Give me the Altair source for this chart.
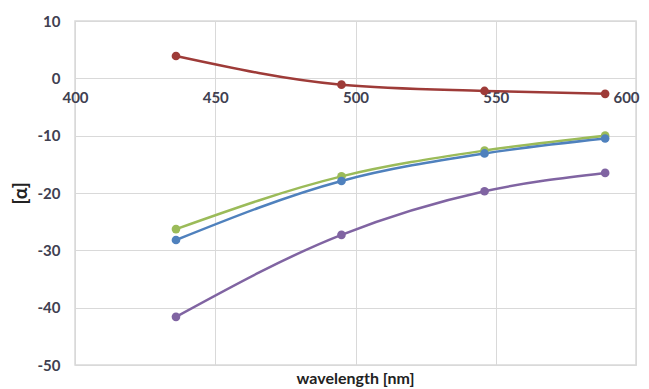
import altair as alt
import pandas as pd

wavelengths = [436, 495, 546, 589]
series_names = ["A", "B", "C", "D"]
red = [3.9, -1.1, -2.2, -2.7]
green = [-26.3, -17.1, -12.6, -10.0]
blue = [-28.2, -17.9, -13.1, -10.5]
purple = [-41.6, -27.3, -19.7, -16.5]
colors = ["#9e3b38", "#9bbb59", "#4f81bd", "#8064a2"]
x_ticks = [400, 450, 500, 550, 600]
y_ticks = [-50, -40, -30, -20, -10, 0, 10]

rows = []
for name, vals in zip(series_names, [red, green, blue, purple]):
    for w, v in zip(wavelengths, vals):
        rows.append({"series": name, "wavelength": w, "alpha": v})
df = pd.DataFrame(rows)

W, H = 561, 344
FONT = "Lato"
LABEL_COLOR = "#404050"
GRID = "#d9d9d9"

x = alt.X("wavelength:Q", scale=alt.Scale(domain=[400, 600], nice=False, zero=False),
          axis=alt.Axis(values=x_ticks, title=None, grid=True, gridColor=GRID, domain=False,
                        ticks=False, offset=-H * 5 / 6, labelPadding=12, labelFont=FONT,
                        labelFontSize=15, labelFontWeight="bold", labelColor=LABEL_COLOR,
                        labelFlush=False, labelExpr="toString(datum.value)",
                        labelOffset={"condition": {"test": "datum.value == 600", "value": -10},
                                     "value": 0}))
y = alt.Y("alpha:Q", scale=alt.Scale(domain=[-50, 10], nice=False, zero=False),
          axis=alt.Axis(values=y_ticks, title="[α]", grid=True, gridColor=GRID, domain=False,
                        ticks=False, labelPadding=15, labelFont=FONT, labelFontSize=15,
                        labelFontWeight="bold", labelColor=LABEL_COLOR, titleFont=FONT,
                        titleFontSize=19, titleFontWeight="bold", titleColor="#222222",
                        titlePadding=7, labelExpr="toString(datum.value)"))
color = alt.Color("series:N", scale=alt.Scale(domain=series_names, range=colors), legend=None)

base = alt.Chart(df).encode(x=x, y=y, color=color, detail="series:N")
lines = base.mark_line(interpolate="monotone", strokeWidth=2.5)
pts = base.mark_circle(size=75, opacity=1)

chart = (lines + pts).properties(
    width=W, height=H,
    autosize=alt.AutoSizeParams(type="none"),
    padding={"left": 67, "top": 13, "right": 5, "bottom": 24},
    title=alt.TitleParams("wavelength [nm]", orient="bottom", font=FONT, fontSize=16,
                          fontWeight="bold", color="#222222", offset=-2),
).configure_view(stroke=GRID, strokeWidth=1.5)

chart.save("out.html", embed_options={"renderer": "svg", "actions": False})
